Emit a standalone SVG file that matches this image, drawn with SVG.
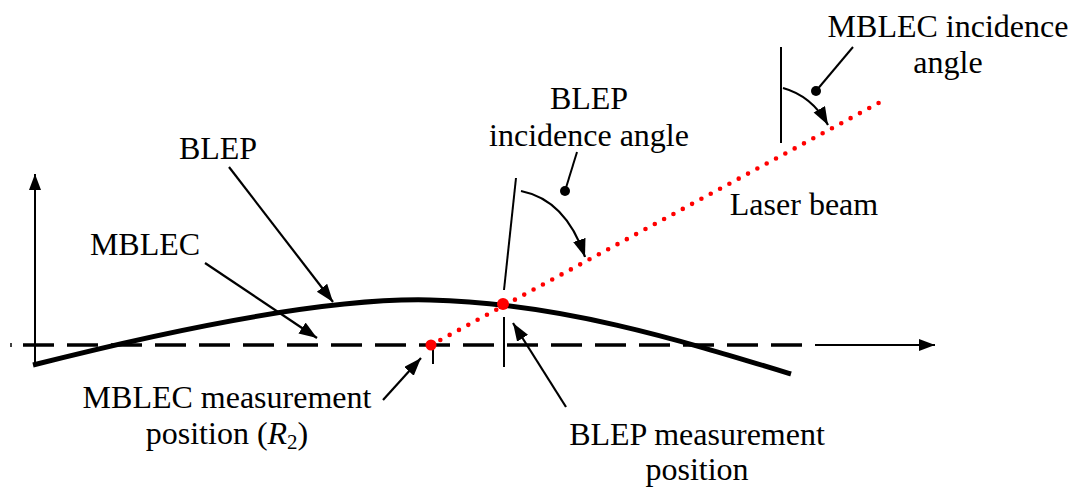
<svg xmlns="http://www.w3.org/2000/svg" width="1074" height="491" viewBox="0 0 1074 491">
<style>
text{font-family:"Liberation Serif","Times New Roman",serif;font-size:32px;fill:#000;text-anchor:middle}
.thin{stroke:#000;stroke-width:2;fill:none}
.lead{stroke:#000;stroke-width:2.2;fill:none;marker-end:url(#ah)}
</style>
<defs>
<marker id="ah" markerUnits="userSpaceOnUse" markerWidth="20" markerHeight="14" refX="18" refY="6.5" orient="auto">
<path d="M0,0 L18,6.5 L0,13 Z" fill="#000"/>
</marker>
<marker id="ax" markerUnits="userSpaceOnUse" markerWidth="18" markerHeight="14" refX="16" refY="6" orient="auto">
<path d="M0,0 L16,6 L0,12 Z" fill="#000"/>
</marker>
</defs>
<rect width="1074" height="491" fill="#fff"/>
<g id="axes">
<line x1="35" y1="364" x2="35" y2="174" class="thin" marker-end="url(#ax)"/>
<line x1="11" y1="343" x2="11" y2="347" stroke="#000" stroke-width="1.5"/>
<line x1="23" y1="345" x2="815" y2="345" stroke="#000" stroke-width="3.5" stroke-dasharray="31 13"/>
<line x1="815" y1="345" x2="935" y2="345" class="thin" marker-end="url(#ax)"/>
</g>
<g id="blep-curve">
<path d="M33,365 C230,315 350,298 430,300 C560,303 680,340 791,374" fill="none" stroke="#000" stroke-width="5"/>
</g>
<g id="normals">
<line x1="516" y1="178" x2="504" y2="290" class="thin"/>
<line x1="504" y1="317" x2="504" y2="367" class="thin"/>
<line x1="433" y1="347" x2="433" y2="364" class="thin"/>
<line x1="781" y1="47" x2="781" y2="143" class="thin"/>
</g>
<g id="laser">
<line x1="431" y1="345" x2="886" y2="99" stroke="#f00" stroke-width="4.6" stroke-linecap="round" stroke-dasharray="0 10.6"/>
<circle cx="431" cy="345" r="5.5" fill="#f00"/>
<circle cx="503" cy="304" r="6" fill="#f00"/>
</g>
<g id="connectors">
<line x1="229" y1="167" x2="333" y2="302" class="lead"/>
<line x1="205" y1="263" x2="317" y2="338" class="lead"/>
<line x1="383" y1="400" x2="421" y2="358" class="lead"/>
<line x1="566" y1="407" x2="513" y2="323" class="lead"/>
<path d="M521,191 Q566,200 585,257" class="lead"/>
<line x1="577" y1="152" x2="565" y2="191" class="thin"/>
<circle cx="565" cy="191" r="5" fill="#000"/>
<path d="M783,88 Q812,96 828,125" class="lead"/>
<line x1="853" y1="47" x2="816" y2="91" class="thin"/>
<circle cx="816" cy="91" r="5" fill="#000"/>
</g>
<g id="labels">
<text x="218" y="159">BLEP</text>
<text x="145" y="255">MBLEC</text>
<text x="589" y="109">BLEP</text>
<text x="589" y="146">incidence angle</text>
<text x="948" y="37">MBLEC incidence</text>
<text x="948" y="73">angle</text>
<text x="804" y="215">Laser beam</text>
<text x="227" y="408">MBLEC measurement</text>
<text x="227" y="444">position (<tspan font-style="italic">R</tspan><tspan font-size="21" dy="5">2</tspan><tspan dy="-5">)</tspan></text>
<text x="697" y="445">BLEP measurement</text>
<text x="697" y="480">position</text>
</g>
</svg>
